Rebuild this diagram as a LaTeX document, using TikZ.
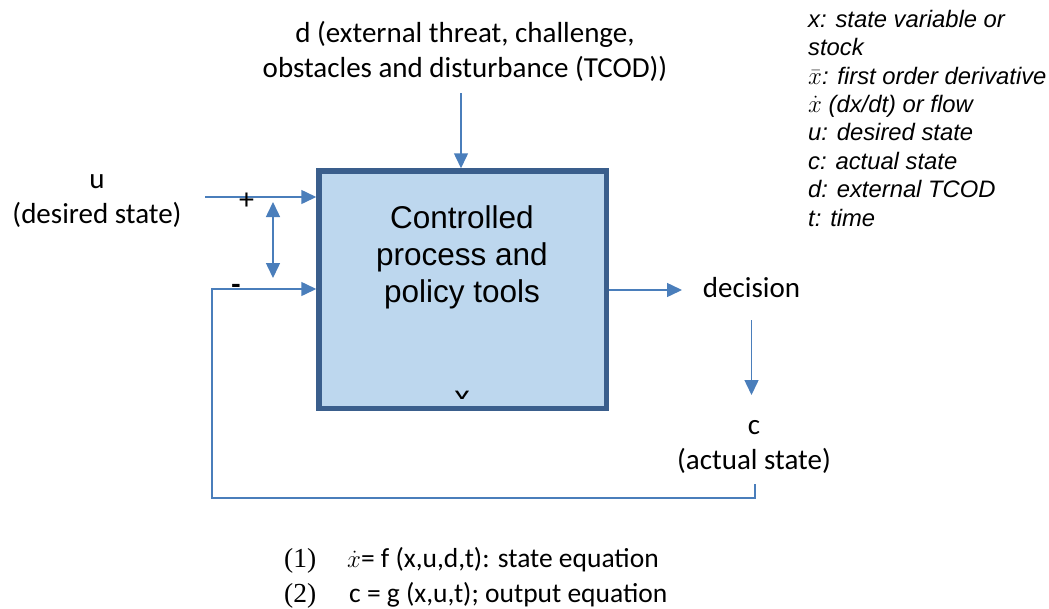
\documentclass[tikz,border=0pt]{standalone}
\usepackage{fontspec}
\setmainfont{Carlito}
\newfontfamily\arialfont{Liberation Sans}
\newfontfamily\timesfont{Liberation Serif}
\usetikzlibrary{arrows.meta}
\definecolor{arrowblue}{HTML}{4A7EBB}
\definecolor{boxfill}{HTML}{BDD7EE}
\definecolor{boxline}{HTML}{3A5E8C}
\tikzset{
  flow/.style={draw=arrowblue, line width=1.5pt, -{Triangle[length=15pt,width=14pt]}},
  twoway/.style={draw=arrowblue, line width=1.5pt, {Triangle[length=15pt,width=14pt]}-{Triangle[length=15pt,width=14pt]}},
  txt/.style={inner sep=0pt, font=\fontsize{29}{35}\selectfont, align=center},
  legend/.style={inner sep=0pt, font=\arialfont\itshape\fontsize{23.8}{28.4}\selectfont, align=left},
  eqn/.style={inner sep=0pt, font=\fontsize{27.5}{35}\selectfont, align=left},
}

\begin{document}
\begin{tikzpicture}[x=1pt,y=-1pt]
    \fill[white] (0,0) rectangle (1049,608);
    \useasboundingbox (0,0) rectangle (1049,608);
    \node[draw=boxline, line width=5.5pt, fill=boxfill, minimum width=287.5pt, minimum height=237.5pt] (box) at (462.75,289.75) {};
    \begin{scope}
        \clip (322,174) rectangle (604,398);
        \node[anchor=base, inner sep=0pt, font=\arialfont\fontsize{31}{37}\selectfont] (xvar) at (462,407) {x};
    \end{scope}
    \node[txt, font=\arialfont\fontsize{31.5}{37}\selectfont, anchor=base] (proc) at (462,302) {Controlled\\process and\\policy tools};
    \node[txt, anchor=base] (dist) at (465,77) {d (external threat, challenge,\\obstacles and disturbance (TCOD))};
    \node[txt, anchor=base] (u) at (97,223) {u\\(desired state)};
    \node[txt, anchor=base] (decision) at (751.5,297) {decision};
    \node[txt, anchor=base] (c) at (754,469) {c\\(actual state)};
    \node[legend, anchor=base west] (key) at (808,226) {x: state variable or\\stock\\$\bar{x}$: first order derivative\\$\dot{x}$ (dx/dt) or flow\\u: desired state\\c: actual state\\d: external TCOD\\t: time};
    \node[eqn, anchor=base west] (eq) at (284,602) {\makebox[63pt][l]{\timesfont(1)}$\dot{x}$= f (x,u,d,t): state equation\\\makebox[65pt][l]{\timesfont(2)}c = g (x,u,t); output equation};

    \coordinate (d-out) at (461,93);
    \coordinate (u-in) at (205,197);
    \coordinate (dec-in) at (682,290);
    \coordinate (dec-out) at (751.5,320);
    \coordinate (c-in) at (751.5,395);
    \coordinate (fb) at (755,484);
    \coordinate (fb-left) at (212,498);
    \coordinate (fb-in) at (212,289);
    \coordinate (adj-top) at (273,202);
    \coordinate (adj-bot) at (273,278);

    \draw[flow] (d-out) -- (d-out |- box.north);
    \draw[flow] (u-in) -- (u-in -| box.west);
    \draw[flow] (dec-in -| box.east) -- (dec-in);
    \draw[flow] (dec-out) -- (c-in);
    \draw[flow] (fb) |- (fb-left) |- (fb-in -| box.west);
    \draw[twoway] (adj-top) -- (adj-bot);

    \node[inner sep=0pt, font=\fontsize{30}{34}\selectfont] (plus) at (246.5,201) {+};
    \node[inner sep=0pt, font=\bfseries\fontsize{30}{34}\selectfont] (minus) at (236,289) {-};
\end{tikzpicture}
\end{document}
